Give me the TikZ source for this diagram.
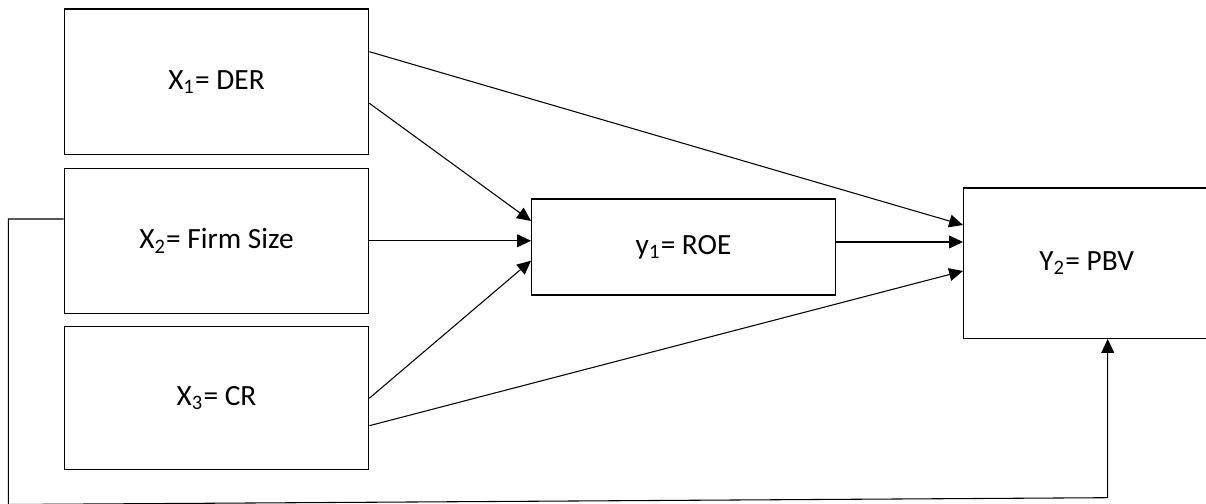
\documentclass[tikz,border=0pt]{standalone}
\usepackage{fontspec}
\setmainfont{Carlito}
\usetikzlibrary{arrows.meta}
\begin{document}
\begin{tikzpicture}[x=0.375pt, y=-0.375pt,
  var/.style={draw, line width=0.5pt, inner sep=0pt, font=\fontsize{11}{13}\selectfont},
  link/.style={line width=0.4pt, -{Triangle[length=5.2pt, width=4.8pt]}}]
  \useasboundingbox (0, 0) rectangle (1206, 504);
  \clip (0, 0) rectangle (1206, 504);

  \node[var, minimum width=114.15pt, minimum height=54.64pt] (x1) at (216.5, 81.9) {X\textsubscript{1}= DER};
  \node[var, minimum width=114.15pt, minimum height=54.38pt] (x2) at (216.5, 240.8) {X\textsubscript{2}= Firm Size};
  \node[var, minimum width=114.15pt, minimum height=53.6pt] (x3) at (216.5, 398.2) {X\textsubscript{3}= CR};
  \node[var, minimum width=113.9pt, minimum height=36pt] (roe) at (683.55, 247) {y\textsubscript{1}= ROE};
  \node[var, anchor=west, minimum height=56.36pt] (pbv) at (963, 263.15)
    {\makebox[92.25pt]{Y\textsubscript{2}= PBV}\hspace*{30pt}};

  \draw[link] (x1.east |- 0, 51.7) -- (pbv.west |- 0, 225);
  \draw[link] (x1.east |- 0, 103.3) -- (roe.west |- 0, 221);
  \draw[link] (x2.east) -- (roe.west |- x2.east);
  \draw[link] (x3.east) -- (roe.west |- 0, 260.7);
  \draw[link] (x3.east |- 0, 425.7) -- (pbv.west |- 0, 271);
  \draw[link] (roe.east |- 0, 242) -- (pbv.west |- 0, 242);

  \coordinate (fb1) at (8.3, 219);
  \coordinate (fb2) at (8.3, 504.5);
  \coordinate (fb3) at (1107.7, 497.7);
  \draw[link] (x2.west |- fb1) -- (fb1) -- (fb2) -- (fb3) -- (fb3 |- pbv.south);
\end{tikzpicture}
\end{document}
